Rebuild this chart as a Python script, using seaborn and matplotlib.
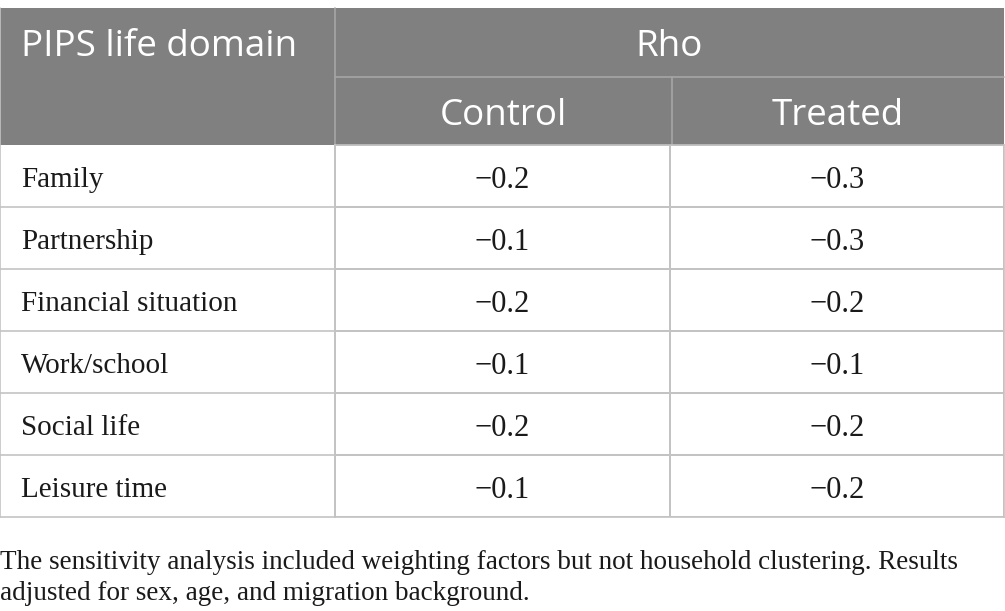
import matplotlib
matplotlib.use("Agg")
import matplotlib.pyplot as plt
import seaborn as sns
import numpy as np
import pandas as pd

# Table content
domains = ["Family", "Partnership", "Financial situation", "Work/school", "Social life", "Leisure time"]
groups = ["Control", "Treated"]
control_rho = [-0.2, -0.1, -0.2, -0.1, -0.2, -0.1]
treated_rho = [-0.3, -0.3, -0.2, -0.1, -0.2, -0.2]
header_first = "PIPS life domain"
header_span = "Rho"
footnote = ("The sensitivity analysis included weighting factors but not household clustering. Results\n"
            "adjusted for sex, age, and migration background.")

sns.set_theme(style="white")
plt.rcParams['font.family'] = ['DejaVu Sans']

W, H = 1005, 611
header_bg = "#7f807f"
line_col = "#c3c3c3"
head_line = "#a6a6a6"
serif = ["Liberation Serif", "DejaVu Serif"]
sans = ["Open Sans", "DejaVu Sans"]
head_fs = 26.5
body_fs = 21

# pixel layout of the table
x_cols = [0, 335, 672, 1004]
y_top, y_h1, y_h2, y_bot = 8, 77, 145, 517

fig = plt.figure(figsize=(W / 100, H / 100), dpi=100)
ax = fig.add_axes([0, 0, 1, 1])
ax.set_xlim(0, W)
ax.set_ylim(H, 0)
ax.axis("off")

# header block
ax.add_patch(plt.Rectangle((0, y_top), x_cols[-1], y_h2 - y_top, color=header_bg, lw=0))
ax.plot([x_cols[1], x_cols[-1]], [y_h1, y_h1], color=head_line, lw=1.2)
ax.plot([x_cols[1], x_cols[1]], [y_top, y_h2], color=head_line, lw=1.2)
ax.plot([x_cols[2], x_cols[2]], [y_h1, y_h2], color=head_line, lw=1.2)
ax.text(21, (y_top + y_h1) / 2 + 5, header_first, color="white", fontsize=head_fs,
        family=sans, va="center", ha="left")
ax.text((x_cols[1] + x_cols[3]) / 2, (y_top + y_h1) / 2 + 5, header_span, color="white",
        fontsize=head_fs, family=sans, va="center", ha="center")
for i, g in enumerate(groups):
    ax.text((x_cols[i + 1] + x_cols[i + 2]) / 2, (y_h1 + y_h2) / 2 + 5, g, color="white",
            fontsize=head_fs, family=sans, va="center", ha="center")

# first column of body
row_h = (y_bot - y_h2) / len(domains)
for i, d in enumerate(domains):
    yc = y_h2 + (i + 0.5) * row_h
    ax.text(21, yc + 4, d, fontsize=body_fs, family=serif, va="center", ha="left", color="#1a1a1a")
    ax.plot([0, x_cols[1]], [y_h2 + (i + 1) * row_h] * 2, color=line_col, lw=1.2)
ax.plot([0, 0], [y_top, y_bot], color=line_col, lw=1.2)
ax.plot([x_cols[1], x_cols[1]], [y_h2, y_bot], color=line_col, lw=1.2)

# numeric body cells through seaborn heatmap
df = pd.DataFrame({"Control": control_rho, "Treated": treated_rho}, index=domains)
labels = df.map(lambda v: f"{v:.1f}".replace("-", "\u2212")).values
hax = fig.add_axes([x_cols[1] / W, 1 - y_bot / H, (x_cols[3] - x_cols[1]) / W, (y_bot - y_h2) / H])
sns.heatmap(df, ax=hax, cmap=["white"], cbar=False, annot=labels, fmt="",
            linewidths=1.2, linecolor=line_col,
            annot_kws={"fontsize": 22, "family": serif, "color": "#1a1a1a"})
# nudge annotations down a little to sit like the reference
for t in hax.texts:
    x, y = t.get_position()
    t.set_position((x, y + 0.08))
hax.set_xticks([])
hax.set_yticks([])
hax.set_xlabel("")
hax.set_ylabel("")
for s in hax.spines.values():
    s.set_visible(True)
    s.set_color(line_col)
    s.set_linewidth(1.2)

# footnote
ax.text(0, 550, footnote, fontsize=19.5, family=serif, va="top", ha="left",
        color="#1a1a1a", linespacing=1.3)

fig.savefig("out.png", dpi=100)
